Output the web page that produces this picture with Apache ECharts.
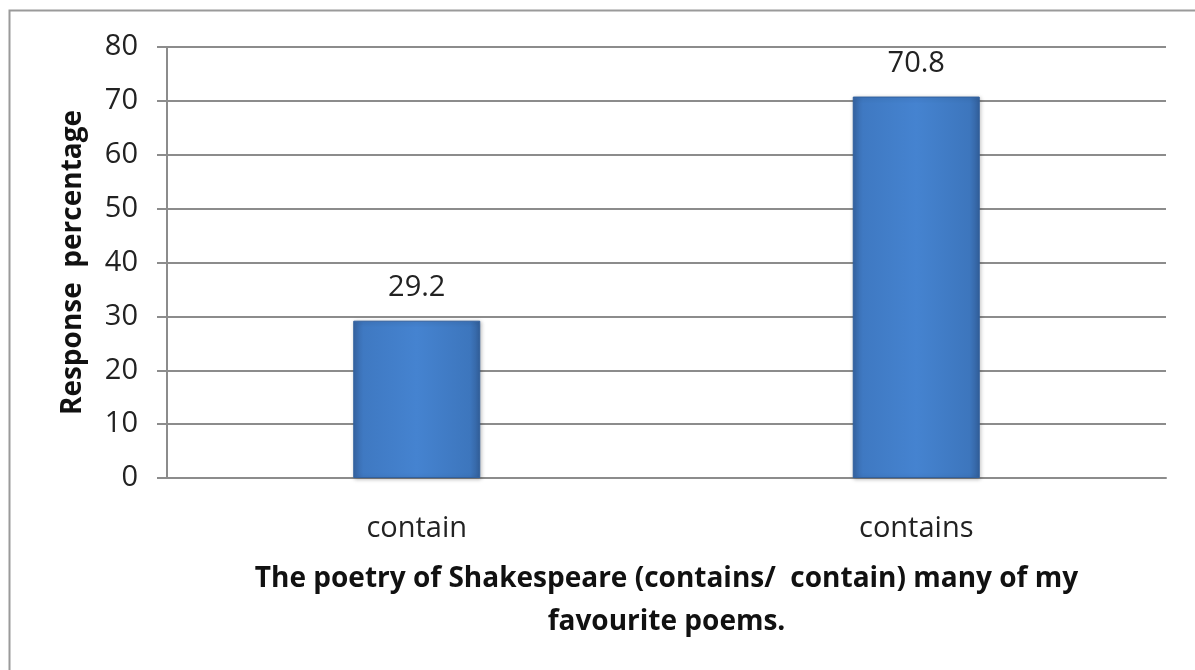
<!DOCTYPE html>
<html lang="en">
<head>
<meta charset="UTF-8">
<title>ECharts</title>
<script type="text/javascript" src="https://cdn.jsdelivr.net/npm/echarts@6/dist/echarts.min.js"></script>
<style>
  html, body { margin: 0; padding: 0; background: #fff; }
</style>
</head>
<body>
	<div id="main" style="width: 1195px;height:670px;"></div>
	<script type="text/javascript">
		// chart data
		var categories = ['contain', 'contains'];
		var responses = [29.2, 70.8];
		var yTicks = [0, 10, 20, 30, 40, 50, 60, 70, 80];

		var font = 'Open Sans';
		var myChart = echarts.init(document.getElementById('main'));

		// bevelled blue look of the bars
		var barFill = new echarts.graphic.LinearGradient(0, 0, 1, 0, [
			{ offset: 0, color: '#3766a6' },
			{ offset: 0.08, color: '#3f79c2' },
			{ offset: 0.5, color: '#4583d0' },
			{ offset: 0.92, color: '#3d76bd' },
			{ offset: 1, color: '#33609c' }
		]);

		myChart.setOption({
			animation: false,
			graphic: [{
				type: 'rect',
				shape: { x: 9.5, y: 10.5, width: 1200, height: 700 },
				style: { fill: 'none', stroke: '#9a9a9a', lineWidth: 2 }
			}],
			grid: { left: 167, right: 29, top: 47, bottom: 192 },
			xAxis: {
				type: 'category',
				data: categories,
				axisLine: { lineStyle: { color: '#8c8c8c', width: 2 } },
				axisTick: { show: false },
				axisLabel: { margin: 36, fontFamily: font, fontSize: 29, color: '#222' },
				name: 'The poetry of Shakespeare (contains/  contain) many of my\nfavourite poems.',
				nameLocation: 'middle',
				nameGap: 80,
				nameTextStyle: { fontFamily: font, fontWeight: 'bold', fontSize: 28, color: '#111', lineHeight: 43 }
			},
			yAxis: {
				type: 'value',
				min: yTicks[0],
				max: yTicks[yTicks.length - 1],
				interval: 10,
				axisLine: { show: true, lineStyle: { color: '#8c8c8c', width: 2 } },
				axisTick: { show: true, length: 10, lineStyle: { color: '#8c8c8c', width: 2 } },
				splitLine: { lineStyle: { color: '#8c8c8c', width: 2 } },
				axisLabel: { margin: 29, fontFamily: font, fontSize: 29, color: '#222' },
				name: 'Response  percentage',
				nameLocation: 'middle',
				nameGap: 80,
				nameTextStyle: { fontFamily: font, fontWeight: 'bold', fontSize: 28, color: '#111' }
			},
			series: [{
				name: 'Response percentage',
				type: 'bar',
				data: responses,
				barWidth: 127,
				itemStyle: {
					color: barFill,
					borderColor: '#31609e',
					borderWidth: 1,
					shadowColor: 'rgba(0,0,0,0.25)',
					shadowBlur: 4,
					shadowOffsetX: 1,
					shadowOffsetY: 1
				},
				label: {
					show: true,
					position: 'top',
					distance: 18,
					fontFamily: font,
					fontSize: 29,
					color: '#222'
				}
			}]
		});
	</script>
</body>
</html>
